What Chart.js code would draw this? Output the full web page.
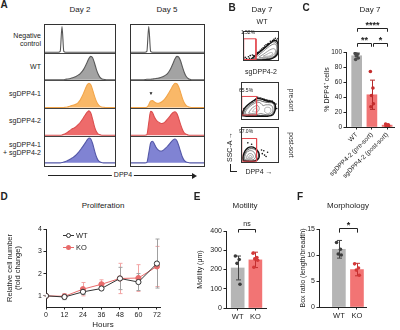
<!DOCTYPE html>
<html>
<head>
<meta charset="utf-8">
<script src="https://cdn.jsdelivr.net/npm/chart.js@4.4.1/dist/chart.umd.min.js"></script>
<style>
  html, body { margin: 0; padding: 0; background: #fff; }
  #fig { position: relative; width: 400px; height: 330px; overflow: hidden; font-family: "Liberation Sans", Arial, sans-serif; color: #222; }
  #fig canvas { position: absolute; }
  .t { position: absolute; white-space: nowrap; transform: translate(-50%, -50%); line-height: 1.15; }
  .ln { position: absolute; box-sizing: border-box; }
</style>
</head>
<body>
<div id="fig"></div>
<script>
// Multi-panel DPP4 figure (A-F) drawn with Chart.js, labels as html text.

// ---------- A: flow histograms (DPP4 intensity, % of axis / row height) ----------
const dppBins = [0, 2.5, 5, 7.5, 10, 12.5, 15, 17.5, 20, 22.5, 25, 27.5, 30, 32.5, 35, 37.5, 40, 42.5, 45, 47.5,
  50, 52.5, 55, 57.5, 60, 62.5, 65, 67.5, 70, 72.5, 75, 77.5, 80, 82.5, 85, 87.5, 90, 92.5, 95, 97.5, 100];
const histRows = ['Negative<br>control', 'WT', 'sgDPP4-1', 'sgDPP4-2', 'sgDPP4-1<br>+ sgDPP4-2'];

const negDay2 = [0,0,0,0,0,0,0,0,0,0.03, 0.93,0.03,0,0,0,0,0,0,0,0, 0,0,0,0,0,0,0,0,0,0, 0,0,0,0,0,0,0,0,0,0, 0];
const wtDay2 = [0,0,0,0,0,0,0,0,0,0, 0,0,0.02,0.03,0.04,0.06,0.08,0.1,0.13,0.17, 0.22,0.29,0.38,0.5,0.64,0.78,0.85,0.8,0.62,0.4, 0.22,0.1,0.04,0.02,0.01,0,0,0,0,0, 0];
const sg1Day2 = [0,0,0,0,0,0,0,0,0,0, 0,0,0.01,0.02,0.04,0.06,0.08,0.1,0.13,0.18, 0.26,0.38,0.52,0.68,0.82,0.88,0.82,0.64,0.42,0.24, 0.12,0.05,0.02,0.01,0,0,0,0,0,0, 0];
const sg2Day2 = [0,0,0,0,0,0,0,0,0,0, 0.01,0.03,0.06,0.1,0.15,0.2,0.24,0.27,0.32,0.38, 0.45,0.54,0.64,0.74,0.83,0.88,0.8,0.58,0.32,0.14, 0.05,0.02,0,0,0,0,0,0,0,0, 0];
const dblDay2 = [0,0,0,0,0,0,0,0,0,0, 0.01,0.03,0.05,0.08,0.11,0.15,0.19,0.24,0.3,0.37, 0.45,0.54,0.63,0.73,0.83,0.9,0.86,0.7,0.46,0.24, 0.1,0.04,0.01,0,0,0,0,0,0,0, 0];

const negDay5 = [0,0,0,0,0,0,0,0,0,0.03, 0.93,0.03,0,0,0,0,0,0,0,0, 0,0,0,0,0,0,0,0,0,0, 0,0,0,0,0,0,0,0,0,0, 0];
const wtDay5 = [0,0,0,0,0,0,0,0,0.01,0.02, 0.02,0.02,0.03,0.04,0.05,0.06,0.08,0.1,0.13,0.17, 0.23,0.32,0.45,0.6,0.76,0.85,0.82,0.68,0.46,0.26, 0.12,0.05,0.02,0,0,0,0,0,0,0, 0];
const sg1Day5 = [0,0,0,0,0,0,0,0,0,0.01, 0.1,0.24,0.25,0.2,0.16,0.15,0.17,0.21,0.27,0.35, 0.45,0.56,0.68,0.8,0.88,0.86,0.74,0.54,0.32,0.16, 0.07,0.03,0.01,0,0,0,0,0,0,0, 0];
const sg2Day5 = [0,0,0,0,0,0,0,0,0,0.02, 0.45,0.86,0.82,0.66,0.55,0.48,0.44,0.42,0.44,0.5, 0.58,0.66,0.75,0.82,0.85,0.78,0.6,0.38,0.2,0.08, 0.03,0.01,0,0,0,0,0,0,0,0, 0];
const dblDay5 = [0,0,0,0,0,0,0,0,0,0.02, 0.35,0.72,0.78,0.68,0.55,0.47,0.43,0.43,0.47,0.53, 0.6,0.68,0.76,0.83,0.86,0.8,0.62,0.4,0.2,0.08, 0.03,0.01,0,0,0,0,0,0,0,0, 0];

// ---------- B: day 7 flow plots (DPP4 x, SSC-A y, 0-100) ----------
const wtGate = [[2,5],[2,74],[36,74],[36,5],[2,5]];
const wtLevels = [
  [[22,6],[30,14],[40,24],[52,36],[64,48],[76,60],[86,68],[94,66],[98,52],[98,34],[94,20],[84,10],[70,5],[50,3],[34,3],[22,6]],
  [[27,8],[36,17],[47,29],[59,41],[71,53],[82,63],[91,62],[96,48],[96,32],[90,18],[78,8],[60,5],[42,5],[27,8]],
  [[32,10],[44,20],[56,32],[68,44],[80,54],[90,56],[94,44],[93,30],[86,16],[72,9],[52,7],[38,7],[32,10]],
  [[44,13],[56,22],[68,32],[80,40],[88,40],[90,30],[84,19],[72,13],[58,11],[44,13]],
  [[56,16],[66,22],[76,28],[82,27],[80,20],[70,16],[56,16]]
];
const wtEvents = [[6,12],[10,8],[15,14],[12,4],[20,18],[4,6],[97,75],[90,76],[26,20],[18,9],[44,30],[56,44],[70,58],[82,68],
  [36,22],[60,50],[76,66],[30,18],[48,36],[64,54],[86,72],[40,28],[52,40],[68,56],[94,70]];

const preGate = [[2,13],[2,62],[41,62],[41,13],[2,13]];
const preLevels = [
  [[3,12],[6,25],[14,36],[26,46],[38,54],[44,57],[54,55],[68,50],[82,48],[90,40],[90,26],[84,14],[70,10],[50,10],[30,10],[14,10],[3,12]],
  [[6,14],[10,26],[19,36],[31,45],[41,51],[48,52],[56,49],[70,46],[84,44],[88,34],[86,21],[76,12],[58,12],[36,12],[18,12],[6,14]],
  [[10,16],[14,26],[24,36],[36,44],[44,47],[52,44],[58,38],[66,40],[80,38],[84,28],[80,18],[66,14],[52,17],[40,14],[24,14],[10,16]],
  [[20,18],[26,28],[36,36],[44,38],[48,30],[44,22],[36,17],[20,18]],
  [[62,22],[64,32],[76,32],[78,22],[70,17],[62,22]],
  [[30,22],[36,30],[42,30],[40,22],[30,22]]
];
const preEvents = [[40,56],[48,58],[56,56],[62,54],[70,52],[78,50],[86,46],[92,42],[94,30],[8,30],[4,20],
  [30,48],[36,52],[44,60],[52,58],[60,55],[66,53],[74,51],[82,50],[88,44]];

const postGate = [[2,5],[2,68],[41,68],[41,5],[2,5]];
const postLevels = [
  [[6,6],[5,16],[8,28],[14,38],[22,44],[32,44],[42,36],[48,24],[46,12],[36,5],[20,4],[6,6]],
  [[8,7],[7,17],[11,28],[18,37],[27,40],[36,38],[44,30],[46,19],[40,9],[28,6],[8,7]],
  [[10,9],[10,18],[14,28],[22,34],[32,32],[38,22],[36,12],[26,8],[10,9]],
  [[15,12],[16,20],[22,26],[30,24],[32,16],[24,11],[15,12]],
  [[20,14],[22,20],[27,20],[27,15],[20,14]]
];
const postEvents = [[56,26],[62,22],[70,30],[66,18],[54,36],[18,56],[28,52],[60,34]];

// ---------- C: % DPP4+ cells ----------
const cLabels = ['WT', 'sgDPP4-2 (pre-sort)', 'sgDPP4-2 (post-sort)'];
const cMean = [95, 43, 2.5];
const cSd = [3.5, 19.5, 1];
const cDots = [[98, 97, 95, 92, 90], [74, 52, 42, 31, 27], [4, 3, 2.5, 2, 1.5]];
const cBrackets = [
  { from: 0, to: 2, at: 132, leg: 127, text: '****' },
  { from: 0, to: 0.95, at: 112, leg: 107, text: '**' },
  { from: 1.05, to: 2, at: 112, leg: 107, text: '*' }
];

// ---------- D: proliferation ----------
const hours = [0, 12, 24, 36, 48, 60, 72];
const wtFold = [1, 0.95, 1.18, 1.33, 1.78, 1.62, 2.45];
const wtFoldSd = [0.02, 0.12, 0.12, 0.08, 0.5, 0.38, 1.1];
const koFold = [1, 0.98, 1.3, 1.52, 1.78, 1.8, 2.32];
const koFoldSd = [0.02, 0.12, 0.3, 0.2, 0.68, 0.6, 0.9];

// ---------- E: motility, F: morphology ----------
const groups = ['WT', 'KO'];
const motMean = [208, 250];
const motSd = [62, 40];
const motDots = [[270, 252, 232, 123], [285, 262, 255, 248, 212]];
const eBrackets = [{ from: 0, to: 1, at: 409, leg: 392, text: 'ns' }];
const boxMean = [11.1, 7.2];
const boxSd = [1.7, 1.2];
const boxDots = [[12.4, 11.1, 10.2, 10.0], [8.3, 7.5, 7.1, 6.1]];
const fBrackets = [{ from: 0, to: 1, at: 15.1, leg: 14.3, text: '*' }];

// dot spread inside a bar (x offset in bar units)
const jitter = [-0.18, 0.12, -0.05, 0.18, -0.12, 0.05];

// ================= helpers =================
const fig = document.getElementById('fig');
Chart.defaults.font.family = '"Liberation Sans", Arial, sans-serif';
Chart.defaults.color = '#222';

function addCanvas(x, y, w, h) {
  const c = document.createElement('canvas');
  c.width = w; c.height = h;
  c.style.left = x + 'px'; c.style.top = y + 'px';
  c.style.width = w + 'px'; c.style.height = h + 'px';
  fig.appendChild(c);
  return c;
}
function txt(s, x, y, size, o) {
  o = o || {};
  const d = document.createElement('div');
  d.className = 't';
  d.innerHTML = s;
  d.style.left = x + 'px'; d.style.top = y + 'px'; d.style.fontSize = size + 'px';
  let tr = o.align === 'right' ? 'translate(-100%,-50%)' : o.align === 'left' ? 'translate(0,-50%)' : 'translate(-50%,-50%)';
  if (o.rot) tr += ' rotate(' + o.rot + 'deg)';
  d.style.transform = tr;
  if (o.align === 'right') d.style.textAlign = 'right';
  if (o.bold) d.style.fontWeight = 'bold';
  if (o.color) d.style.color = o.color;
  if (o.bg) { d.style.background = o.bg; d.style.padding = '0 2px'; }
  fig.appendChild(d);
  return d;
}
function box(x, y, w, h, css) {
  const d = document.createElement('div');
  d.className = 'ln';
  d.style.left = x + 'px'; d.style.top = y + 'px'; d.style.width = w + 'px'; d.style.height = h + 'px';
  Object.assign(d.style, css);
  fig.appendChild(d);
  return d;
}
const pts = arr => arr.map(p => ({ x: p[0], y: p[1] }));

const frame = {
  id: 'frame',
  afterDraw(chart) {
    const { ctx, chartArea: a } = chart;
    ctx.save();
    ctx.strokeStyle = '#333'; ctx.lineWidth = 1;
    ctx.strokeRect(Math.round(a.left) + 0.5, Math.round(a.top) + 0.5, Math.round(a.width) - 1, Math.round(a.height) - 1);
    ctx.restore();
  }
};

function errorBars(xs, means, sds, colors, cap, datasetIndex) {
  const draw = chart => {
    const { ctx, scales: { x, y } } = chart;
    ctx.save(); ctx.lineWidth = 1;
    xs.forEach((xv, i) => {
      const px = Math.round(x.getPixelForValue(xv)) + 0.5;
      const top = y.getPixelForValue(means[i] + sds[i]);
      const bot = y.getPixelForValue(means[i] - sds[i]);
      ctx.strokeStyle = Array.isArray(colors) ? colors[i] : colors;
      ctx.beginPath();
      ctx.moveTo(px, top); ctx.lineTo(px, bot);
      ctx.moveTo(px - cap, top); ctx.lineTo(px + cap, top);
      ctx.moveTo(px - cap, bot); ctx.lineTo(px + cap, bot);
      ctx.stroke();
    });
    ctx.restore();
  };
  if (datasetIndex === undefined) return { id: 'eb' + Math.random(), beforeDatasetsDraw: draw };
  return { id: 'eb' + Math.random(), afterDatasetDraw(chart, args) { if (args.index === datasetIndex) draw(chart); } };
}

function brackets(list) {
  return {
    id: 'brackets',
    afterDraw(chart) {
      const { ctx, scales: { x, y } } = chart;
      ctx.save();
      ctx.strokeStyle = '#222'; ctx.fillStyle = '#222'; ctx.lineWidth = 1;
      ctx.textAlign = 'center'; ctx.textBaseline = 'middle';
      list.forEach(b => {
        const x0 = Math.round(x.getPixelForValue(b.from)) + 0.5, x1 = Math.round(x.getPixelForValue(b.to)) + 0.5;
        const yy = Math.round(y.getPixelForValue(b.at)) + 0.5, yl = y.getPixelForValue(b.leg);
        ctx.beginPath();
        ctx.moveTo(x0, yl); ctx.lineTo(x0, yy); ctx.lineTo(x1, yy); ctx.lineTo(x1, yl);
        ctx.stroke();
        const star = b.text.indexOf('*') >= 0;
        ctx.font = star ? 'bold 9px "Liberation Sans", Arial' : '7px "Liberation Sans", Arial';
        ctx.fillText(b.text, (x0 + x1) / 2, yy - (star ? 3 : 5.5));
      });
      ctx.restore();
    }
  };
}

function yAxis(min, max, ticks, title, width, tickSize, titleSize, titlePad) {
  return {
    type: 'linear', min, max, position: 'left',
    afterBuildTicks: s => { s.ticks = ticks.map(v => ({ value: v })); },
    afterFit: s => { s.width = width; s.paddingTop = 0; s.paddingBottom = 0; },
    ticks: { font: { size: tickSize }, padding: 1.5, color: '#222' },
    grid: { display: true, drawOnChartArea: false, tickLength: 2.5, color: '#222' },
    border: { display: true, color: '#222', width: 1 },
    title: { display: true, text: title, font: { size: titleSize, lineHeight: 1.1 }, padding: { top: titlePad, bottom: 0 }, color: '#222' }
  };
}
function xAxis(min, max, ticks, height, tickSize, labels, rot) {
  return {
    type: 'linear', min, max, offset: false, position: 'bottom',
    afterBuildTicks: s => { s.ticks = ticks.map(v => ({ value: v })); },
    afterFit: s => { s.height = height; s.paddingLeft = 0; s.paddingRight = 0; },
    ticks: {
      font: { size: tickSize }, padding: 1.5, color: '#222', autoSkip: false,
      minRotation: rot || 0, maxRotation: rot || 0,
      callback: labels ? (v => labels[v]) : (v => v)
    },
    grid: { display: true, drawOnChartArea: false, tickLength: 2.5, color: '#222', offset: false },
    border: { display: true, color: '#222', width: 1 }
  };
}

// ================= A =================
const rowStyle = [
  { line: '#555', fill: null },
  { line: '#5a5a5a', fill: '#a3a3a3' },
  { line: '#f2a54a', fill: '#f9b868' },
  { line: '#db4f4f', fill: '#ee6b6b' },
  { line: '#5458a8', fill: '#8083d3' }
];
function histChart(x, y, w, h, series) {
  const datasets = series.map((vals, k) => {
    const base = 4 - k + 0.03;
    return {
      data: dppBins.map((b, i) => ({ x: b, y: base + vals[i] })),
      fill: rowStyle[k].fill ? { value: base } : false,
      backgroundColor: rowStyle[k].fill || 'transparent',
      borderColor: rowStyle[k].line, borderWidth: 1.1,
      pointRadius: 0, cubicInterpolationMode: 'monotone'
    };
  });
  new Chart(addCanvas(x, y, w, h), {
    type: 'line',
    data: { datasets },
    options: {
      responsive: false, animation: false, events: [],
      layout: { padding: 0 },
      plugins: { legend: { display: false }, tooltip: { enabled: false } },
      scales: {
        x: { type: 'linear', min: 0, max: 100, display: false },
        y: {
          min: -0.12, max: 5.05,
          afterBuildTicks: s => { s.ticks = [1, 2, 3, 4].map(v => ({ value: v })); },
          afterFit: s => { s.width = 0; },
          ticks: { display: false },
          grid: { color: '#444', drawTicks: false },
          border: { display: false }
        }
      }
    },
    plugins: [frame]
  });
}
histChart(44, 24, 72, 143, [negDay2, wtDay2, sg1Day2, sg2Day2, dblDay2]);
histChart(130, 24, 75, 143, [negDay5, wtDay5, sg1Day5, sg2Day5, dblDay5]);

txt('A', 4, 5, 10, { bold: true });
txt('Day 2', 80, 10, 8);
txt('Day 5', 167, 10, 8);
const rowY = [40, 67, 94, 121, 149];
histRows.forEach((r, k) => txt(r, 41, rowY[k], 7, { align: 'right' }));
txt('&#9660;', 151, 94, 5);
box(48, 175, 145, 1, { background: '#222' });
box(192, 172.5, 0, 0, { borderTop: '3px solid transparent', borderBottom: '3px solid transparent', borderLeft: '5px solid #222' });
txt('DPP4', 123, 175, 7, { bg: '#fff' });

// ================= B =================
const levelCol = ['#111', '#333', '#666', '#808080', '#999', '#aaa'];
function flowChart(x, y, w, h, gate, levels, events) {
  const datasets = [
    { data: pts(gate), showLine: true, borderColor: '#e3474d', borderWidth: 1, pointRadius: 0, tension: 0 }
  ];
  levels.forEach((lv, k) => datasets.push({
    data: pts(lv), showLine: true, borderColor: levelCol[k], borderWidth: k ? 0.8 : 1.4, pointRadius: 0, tension: 0.4
  }));
  datasets.push({ data: pts(events), pointRadius: 0.8, backgroundColor: '#111', borderWidth: 0 });
  new Chart(addCanvas(x, y, w, h), {
    type: 'scatter',
    data: { datasets },
    options: {
      responsive: false, animation: false, events: [],
      layout: { padding: 0 },
      plugins: { legend: { display: false }, tooltip: { enabled: false } },
      scales: {
        x: { type: 'linear', min: 0, max: 100, display: false },
        y: { type: 'linear', min: 0, max: 100, display: false }
      }
    },
    plugins: [frame]
  });
}
flowChart(239, 27, 44, 38, wtGate, wtLevels, wtEvents);
flowChart(237, 78, 46, 46, preGate, preLevels, preEvents);
flowChart(237, 123, 46, 44, postGate, postLevels, postEvents);

txt('B', 232, 8, 10, { bold: true });
txt('Day 7', 262, 10, 8);
txt('WT', 262, 22, 7);
txt('sgDPP4-2', 261, 72, 7);
txt('1.52%', 248, 33, 5);
txt('65.5%', 246, 91, 5);
txt('97.0%', 246, 132, 5);
txt('pre-sort', 291, 100, 6.5, { rot: 90 });
txt('post-sort', 291, 145, 6.5, { rot: 90 });
txt('SSC-A &#8594;', 230, 147, 7, { rot: -90 });
box(230, 164, 7, 8, { borderLeft: '1px solid #222', borderBottom: '1px solid #222' });
txt('DPP4 &#8594;', 259, 172, 7);

// ================= C =================
function barChart(canvas, pad, xs, xMin, xMax, labels, means, sds, dots, barCols, dotCols, errCols, barW, xRot, yCfg, xHeight, tickSize, brk) {
  const dotData = [], dotColors = [];
  dots.forEach((arr, i) => arr.forEach((v, j) => { dotData.push({ x: xs[i] + jitter[j] * barW / 18, y: v }); dotColors.push(dotCols[i]); }));
  new Chart(canvas, {
    data: {
      datasets: [
        { type: 'scatter', order: 0, data: dotData, pointRadius: 1.8, backgroundColor: dotColors, borderWidth: 0 },
        { type: 'bar', order: 1, data: xs.map((xv, i) => ({ x: xv, y: means[i] })), backgroundColor: barCols, borderWidth: 0, barThickness: barW }
      ]
    },
    options: {
      responsive: false, animation: false, events: [],
      layout: { padding: pad },
      plugins: { legend: { display: false }, tooltip: { enabled: false } },
      scales: {
        x: xAxis(xMin, xMax, xs, xHeight, tickSize, labels, xRot),
        y: yCfg
      }
    },
    plugins: [errorBars(xs, means, sds, errCols, 2.5, 1), brackets(brk)]
  });
}

barChart(addCanvas(292, 15, 106, 175), { top: 37, left: 31, right: 3, bottom: 0 },
  [0, 1, 2], -0.7, 2.45, cLabels, cMean, cSd, cDots,
  ['#b3b3b3', '#f07474', '#f07474'], ['#4a4a4a', '#c42c2c', '#d03434'], ['#444', '#b32a2a', '#b32a2a'],
  10, 45, yAxis(0, 100, [0, 20, 40, 60, 80, 100], '% DPP4\u207A cells', 23, 6.5, 7, 0), 63, 6.5, cBrackets);
txt('C', 306, 8, 10, { bold: true });
txt('Day 7', 370, 10, 8);

// ================= D =================
new Chart(addCanvas(0, 222, 170, 108), {
  type: 'line',
  data: {
    datasets: [
      { data: hours.map((h, i) => ({ x: h, y: wtFold[i] })), borderColor: '#333', borderWidth: 1, pointRadius: 2.6,
        pointBackgroundColor: '#fff', pointBorderColor: '#333', pointBorderWidth: 1, tension: 0 },
      { data: hours.map((h, i) => ({ x: h, y: koFold[i] })), borderColor: '#e86b6b', borderWidth: 1, pointRadius: 2.6,
        pointBackgroundColor: '#e86b6b', pointBorderColor: '#e86b6b', tension: 0 }
    ]
  },
  options: {
    responsive: false, animation: false, events: [],
    layout: { padding: { top: 7, right: 10, left: 0, bottom: 0 } },
    plugins: { legend: { display: false }, tooltip: { enabled: false } },
    scales: {
      x: Object.assign(xAxis(0, 74, hours, 23, 7), {
        title: { display: true, text: 'Hours', font: { size: 8 }, padding: { top: 0, bottom: 0 }, color: '#222' }
      }),
      y: yAxis(0.5, 4, [1, 2, 3, 4], ['Relative cell number', '(fold change)'], 46, 7, 7.5, 6)
    }
  },
  plugins: [errorBars(hours, koFold, koFoldSd, '#f2a4a4', 2), errorBars(hours, wtFold, wtFoldSd, '#a0a0a0', 2)]
});
txt('D', 4, 197, 10, { bold: true });
txt('Proliferation', 103, 206, 8);
box(63, 235, 11, 1, { background: '#333' });
box(65.5, 233, 5, 5, { border: '1px solid #333', borderRadius: '50%', background: '#fff' });
txt('WT', 76, 235.5, 7.5, { align: 'left' });
box(63, 247, 11, 1, { background: '#e86b6b' });
box(65.5, 245, 5, 5, { borderRadius: '50%', background: '#e86b6b' });
txt('KO', 76, 247.5, 7.5, { align: 'left' });

// ================= E =================
barChart(addCanvas(196, 215, 74, 115), { top: 16, left: 0, right: 4, bottom: 0 },
  [0, 1], -0.66, 1.6, groups, motMean, motSd, motDots,
  ['#b5b5b5', '#f27474'], ['#3c3c3c', '#d43838'], ['#444', '#c03030'],
  13, 0, yAxis(0, 400, [0, 100, 200, 300, 400], 'Motility (\u03BCm)', 30, 7, 7, 0), 22, 7.5, eBrackets);
txt('E', 197, 197, 10, { bold: true });
txt('Motility', 245, 206, 8);

// ================= F =================
barChart(addCanvas(294, 213, 76, 117), { top: 16, left: 5, right: 4, bottom: 0 },
  [0, 1], -1.1, 1.5, groups, boxMean, boxSd, boxDots,
  ['#b5b5b5', '#f27474'], ['#3c3c3c', '#d43838'], ['#444', '#c03030'],
  13, 0, yAxis(0, 15, [0, 5, 10, 15], 'Box ratio (length/breadth)', 20, 7, 7, 0), 23, 7.5, fBrackets);
txt('F', 300, 197, 10, { bold: true });
txt('Morphology', 348, 206, 8);
</script>
</body>
</html>
